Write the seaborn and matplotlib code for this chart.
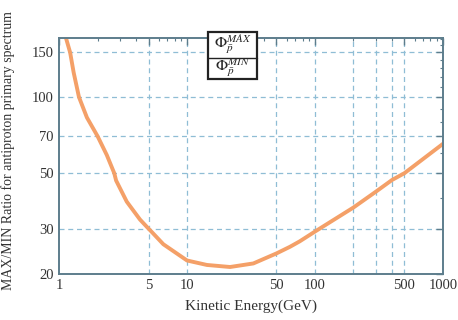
import numpy as np
import pandas as pd
import matplotlib
matplotlib.use("Agg")
import matplotlib.pyplot as plt
import seaborn as sns
from matplotlib.ticker import FixedLocator, NullFormatter, LogLocator
from matplotlib.patches import Rectangle

# values
energy = [1.1, 1.22, 1.30, 1.43, 1.65, 2.0, 2.36, 2.70, 2.79, 3.38, 4.29, 5.0, 5.3, 6.53,
          10.0, 14.3, 21.7, 33.0, 50.0, 63.8, 76.0, 100.0, 200.0, 300.0, 400.0, 500.0, 1000.0]
ratio = [180, 150, 125, 100, 83, 70, 59, 50, 46.8, 38.6, 32.8, 30.2, 29.3, 26.2,
         22.6, 21.7, 21.3, 22.0, 24.1, 25.6, 26.9, 29.4, 36.6, 42.3, 47.0, 50, 65.3]

x_ticks = [1, 5, 10, 50, 100, 500, 1000]
x_grid = [5, 10, 50, 100, 200, 300, 400, 500]
y_ticks = [20, 30, 50, 70, 100, 150]

df = pd.DataFrame({"energy": energy, "ratio": ratio})

sns.set_theme(style="white")
plt.rcParams["font.family"] = ["Liberation Serif", "DejaVu Serif"]
plt.rcParams["mathtext.fontset"] = "stix"

fig = plt.figure(figsize=(4.58, 3.2), dpi=100)
ax = fig.add_axes([0.129, 0.144, 0.838, 0.737])

sns.lineplot(data=df, x="energy", y="ratio", ax=ax, color="#f4a068", linewidth=2.8)

ax.set_xscale("log")
ax.set_yscale("log")
ax.set_xlim(1, 1000)
ax.set_ylim(20, 171)

ax.xaxis.set_major_locator(FixedLocator(x_ticks))
ax.set_xticklabels([str(t) for t in x_ticks])
ax.xaxis.set_minor_locator(LogLocator(base=10, subs=np.arange(2, 10)))
ax.xaxis.set_minor_formatter(NullFormatter())
ax.yaxis.set_major_locator(FixedLocator(y_ticks))
ax.set_yticklabels([str(t) for t in y_ticks])
ax.yaxis.set_minor_locator(FixedLocator([40, 60, 80, 90, 110, 120, 130, 140, 160, 170]))
ax.yaxis.set_minor_formatter(NullFormatter())

frame = "#5d7d8c"
for s in ax.spines.values():
    s.set_color(frame)
    s.set_linewidth(1.4)
ax.tick_params(which="both", direction="in", top=True, right=True, color=frame,
               labelcolor="#333333", labelsize=10.5)
ax.tick_params(which="major", length=5, width=1.0, pad=4)
ax.tick_params(which="minor", length=2.5, width=0.8)

for g in x_grid:
    ax.axvline(g, color="#8fbdd5", linestyle=(0, (4, 3)), linewidth=0.9, zorder=0)
for g in y_ticks[1:]:
    ax.axhline(g, color="#8fbdd5", linestyle=(0, (4, 3)), linewidth=0.9, zorder=0)

ax.set_xlabel("Kinetic Energy(GeV)", fontsize=11, color="#333333", labelpad=5)
ax.set_ylabel("MAX/MIN Ratio for antiproton primary spectrum", fontsize=10, color="#333333")
ax.yaxis.set_label_coords(-0.115, 0.525)

# two-cell label box
bx0, bx1, by0, bym, by1 = 0.388, 0.516, 0.826, 0.915, 1.025
ax.add_patch(Rectangle((bx0, by0), bx1 - bx0, by1 - by0, transform=ax.transAxes,
                       facecolor="white", edgecolor="#222222", linewidth=1.6, clip_on=False, zorder=5))
ax.plot([bx0, bx1], [bym, bym], transform=ax.transAxes, color="#222222", linewidth=1.0, clip_on=False, zorder=6)
ax.text((bx0 + bx1) / 2, (bym + by1) / 2 + 0.004, r"$\Phi_{\bar{p}}^{MAX}$", transform=ax.transAxes,
        ha="center", va="center", fontsize=11.5, zorder=7)
ax.text((bx0 + bx1) / 2, (by0 + bym) / 2 + 0.002, r"$\Phi_{\bar{p}}^{MIN}$", transform=ax.transAxes,
        ha="center", va="center", fontsize=11.5, zorder=7)

fig.savefig("out.png", dpi=100)
